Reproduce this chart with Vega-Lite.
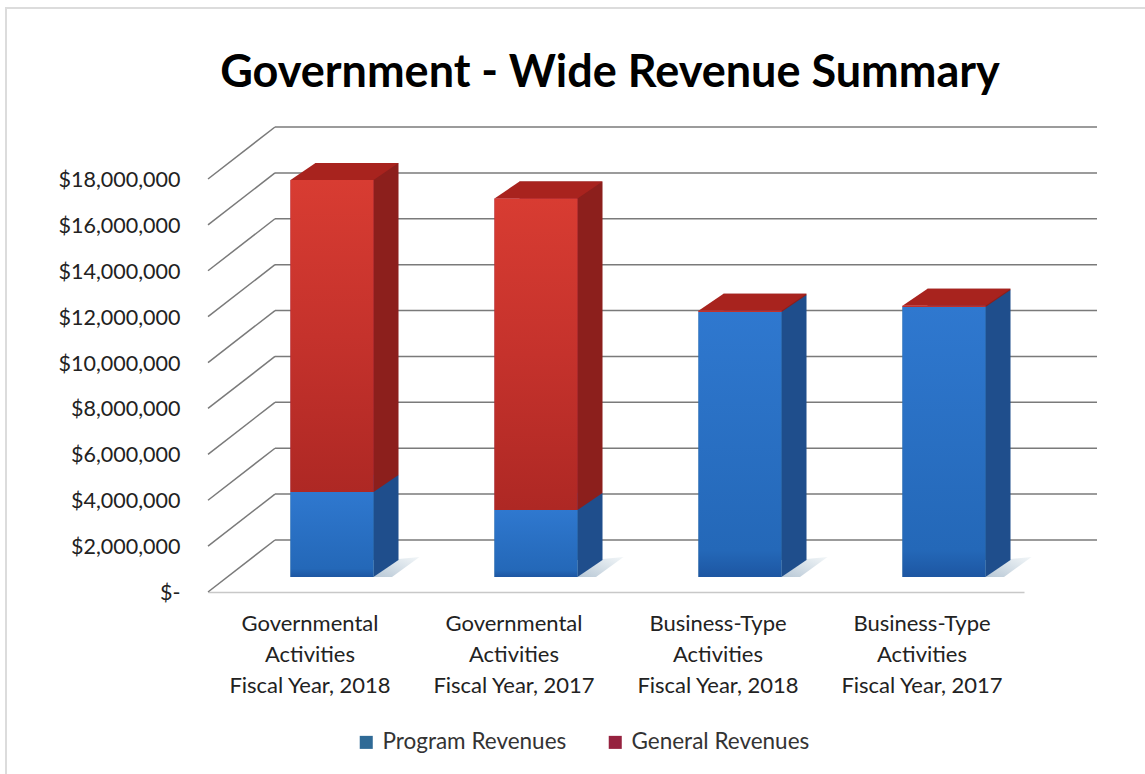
{"$schema":"https://vega.github.io/schema/vega-lite/v6.json","width":816,"height":465,"autosize":"none","padding":{"left":208,"top":127,"right":121,"bottom":182},"background":"white",
"title":{"text":"Government - Wide Revenue Summary","font":"Lato","fontSize":45,"fontWeight":"bold","color":"#000000","anchor":"middle","offset":-92,"dx":-6},
"config":{"view":{"stroke":null},"font":"Lato"},
"datasets":{"bars":[
{"category":"Governmental|Activities|Fiscal Year, 2018","program":3700000,"general":13600000,"total":17300000},
{"category":"Governmental|Activities|Fiscal Year, 2017","program":2920000,"general":13580000,"total":16500000},
{"category":"Business-Type|Activities|Fiscal Year, 2018","program":11550000,"general":50000,"total":11600000},
{"category":"Business-Type|Activities|Fiscal Year, 2017","program":11770000,"general":50000,"total":11820000}],
"ticks":[{"v":0},{"v":2000000},{"v":4000000},{"v":6000000},{"v":8000000},{"v":10000000},{"v":12000000},{"v":14000000},{"v":16000000},{"v":18000000}]},
"data":{"name":"bars"},
"layer":[
{"data":{"values":[{"frame":"chart area"}]},"mark":{"type":"point","filled":false,"fill":null,"shape":"M-12.2,8.3L-12.2,-7.03L10.6,-7.03","size":10000,"stroke":"#dcdcdc","strokeWidth":2,"opacity":1},"encoding":{}},
{"data":{"name":"ticks"},"mark":{"type":"tick","color":"#7a7a7a","size":822,"thickness":1.5,"orient":"horizontal","xOffset":70,"yOffset":-52,"opacity":1},
 "encoding":{"y":{"field":"v","type":"quantitative","scale":{"domain":[0,20266344],"nice":false,"zero":true},
  "axis":{"title":null,"values":[0,2000000,4000000,6000000,8000000,10000000,12000000,14000000,16000000,18000000],"grid":false,"domain":false,"ticks":false,"labelFont":"Lato","labelFontSize":21.5,"labelColor":"#222222","labelPadding":28,"labelOffset":1.5,"labelExpr":"datum.value===0?'$-':'$'+format(datum.value,',')"}}}},
{"data":{"name":"ticks"},"mark":{"type":"point","filled":false,"fill":null,"shape":"M0,0L1.34,-1.04","size":10000,"stroke":"#7a7a7a","strokeWidth":1.5,"opacity":1,"xOffset":-408},
 "encoding":{"y":{"field":"v","type":"quantitative"}}},
{"mark":{"type":"point","filled":true,"shape":"M0.83,0L1.33,-0.36L1.75,-0.4L1.2,0Z","size":10000,"color":{"gradient":"linear","x1":0,"y1":1,"x2":1,"y2":0,"stops":[{"offset":0,"color":"#b8c8d6"},{"offset":1,"color":"#f2f6f8"}]},"opacity":1,"xOffset":22,"yOffset":-15},
 "encoding":{"x":{"field":"category","type":"nominal","sort":null,"scale":{"paddingInner":0.593,"paddingOuter":0.2965},
   "axis":{"title":null,"labelAngle":0,"ticks":false,"domain":true,"domainColor":"#c8c8c8","domainWidth":1.5,"labelFont":"Lato","labelFontSize":22,"labelColor":"#222222","labelPadding":21,"labelLineHeight":31,"labelLimit":300,"labelExpr":"split(datum.label,'|')"}},
  "y":{"datum":0,"type":"quantitative"}}},
{"mark":{"type":"bar","xOffset":47,"yOffset":-32,"y2Offset":-32,"color":"#1f4e8c"},
 "encoding":{"x":{"field":"category","type":"nominal","sort":null},"y":{"field":"program","type":"quantitative"},"y2":{"datum":0}}},
{"mark":{"type":"bar","xOffset":47,"yOffset":-32,"y2Offset":-32,"color":"#8c1f1c"},
 "encoding":{"x":{"field":"category","type":"nominal","sort":null},"y":{"field":"total","type":"quantitative"},"y2":{"field":"program"}}},
{"mark":{"type":"point","filled":true,"shape":"M0.83,0L1.33,-0.34L0.83,-0.34Z","size":10000,"color":"#8c1f1c","opacity":1,"xOffset":22,"yOffset":-15},
 "encoding":{"x":{"field":"category","type":"nominal","sort":null},"y":{"field":"program","type":"quantitative"}}},
{"mark":{"type":"point","filled":true,"shape":"M0.83,0L1.33,-0.34L0.83,-0.34Z","size":10000,"color":"#1f4e8c","opacity":1,"xOffset":22,"yOffset":-15},
 "encoding":{"x":{"field":"category","type":"nominal","sort":null},"y":{"datum":0,"type":"quantitative"}}},
{"mark":{"type":"point","filled":true,"shape":"M-0.83,0L-0.33,-0.34L1.33,-0.34L0.83,0Z","size":10000,"color":"#a8231e","opacity":1,"xOffset":22,"yOffset":-15},
 "encoding":{"x":{"field":"category","type":"nominal","sort":null},"y":{"field":"total","type":"quantitative"}}},
{"mark":{"type":"bar","xOffset":22,"yOffset":-15,"y2Offset":-15},
 "encoding":{"x":{"field":"category","type":"nominal","sort":null},"y":{"field":"program","type":"quantitative"},"y2":{"datum":0},
  "color":{"datum":"Program Revenues","type":"nominal","scale":{"domain":["Program Revenues","General Revenues"],"range":["#2f6a96","#96223f"]},
   "legend":{"title":null,"orient":"none","legendX":147,"legendY":604,"direction":"horizontal","symbolType":"square","symbolSize":170,"symbolStrokeWidth":0,"labelFont":"Lato","labelFontSize":22.5,"labelColor":"#333333","labelOffset":5,"labelLimit":300,"columnPadding":37,"values":["Program Revenues","General Revenues"]}}}},
{"mark":{"type":"bar","xOffset":22,"yOffset":-15,"y2Offset":-15},
 "encoding":{"x":{"field":"category","type":"nominal","sort":null},"y":{"field":"total","type":"quantitative"},"y2":{"field":"program"},
  "color":{"datum":"General Revenues","type":"nominal"}}},
{"mark":{"type":"bar","xOffset":22,"yOffset":-15,"y2Offset":-15,"color":{"gradient":"linear","x1":0,"y1":0,"x2":0,"y2":1,"stops":[{"offset":0,"color":"#2f78cf"},{"offset":0.9,"color":"#2468b8"},{"offset":1,"color":"#1d56a2"}]}},
 "encoding":{"x":{"field":"category","type":"nominal","sort":null},"y":{"field":"program","type":"quantitative"},"y2":{"datum":0}}},
{"mark":{"type":"bar","xOffset":22,"yOffset":-15,"y2Offset":-15,"color":{"gradient":"linear","x1":0,"y1":0,"x2":0,"y2":1,"stops":[{"offset":0,"color":"#d83c32"},{"offset":0.5,"color":"#c5322c"},{"offset":1,"color":"#ae2824"}]}},
 "encoding":{"x":{"field":"category","type":"nominal","sort":null},"y":{"field":"total","type":"quantitative"},"y2":{"field":"program"}}}
]}
